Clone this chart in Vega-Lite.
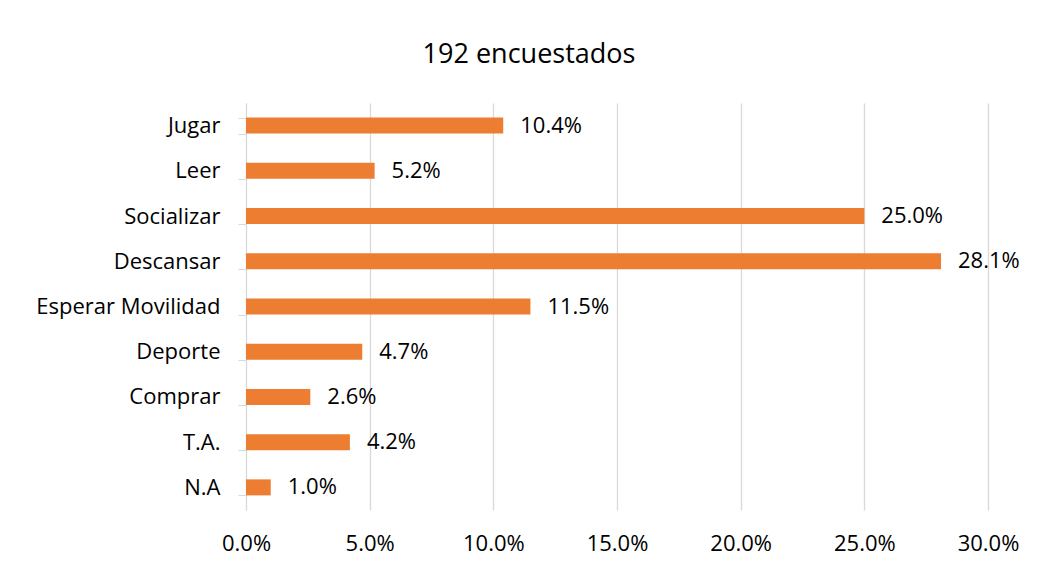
{
  "$schema": "https://vega.github.io/schema/vega-lite/v6.json",
  "autosize": "none",
  "width": 742,
  "height": 407,
  "padding": {"left": 246, "top": 103, "right": 59, "bottom": 59},
  "background": "white",
  "config": {
    "font": "Open Sans",
    "view": {"stroke": null}
  },
  "title": {
    "text": "192 encuestados",
    "font": "Open Sans",
    "fontSize": 27,
    "fontWeight": "normal",
    "color": "#000000",
    "anchor": "middle",
    "baseline": "alphabetic",
    "offset": 2,
    "dx": -88
  },
  "data": {
    "values": [
      {"actividad": "Jugar", "pct": 0.104},
      {"actividad": "Leer", "pct": 0.052},
      {"actividad": "Socializar", "pct": 0.25},
      {"actividad": "Descansar", "pct": 0.281},
      {"actividad": "Esperar Movilidad", "pct": 0.115},
      {"actividad": "Deporte", "pct": 0.047},
      {"actividad": "Comprar", "pct": 0.026},
      {"actividad": "T.A.", "pct": 0.042},
      {"actividad": "N.A", "pct": 0.01}
    ]
  },
  "encoding": {
    "y": {
      "field": "actividad",
      "type": "nominal",
      "sort": null,
      "scale": {"paddingInner": 0.646, "paddingOuter": 0.323},
      "axis": {
        "title": null,
        "domainColor": "#d9d9d9",
        "domainWidth": 1,
        "tickColor": "#d9d9d9",
        "tickSize": 8,
        "tickBand": "extent",
        "labelFont": "Open Sans",
        "labelFontSize": 22,
        "labelColor": "#000000",
        "labelPadding": 18,
        "labelLimit": 400,
        "grid": false
      }
    },
    "x": {
      "field": "pct",
      "type": "quantitative",
      "scale": {"domain": [0, 0.3], "nice": false},
      "axis": {
        "title": null,
        "format": ".1%",
        "values": [0, 0.05, 0.1, 0.15, 0.2, 0.25, 0.3],
        "domain": false,
        "ticks": false,
        "tickSize": 0,
        "grid": true,
        "gridColor": "#d9d9d9",
        "gridWidth": 1.3,
        "labelFlush": false,
        "labelFont": "Open Sans",
        "labelFontSize": 22,
        "labelColor": "#000000",
        "labelPadding": 23
      }
    }
  },
  "layer": [
    {"mark": {"type": "bar", "color": "#ED7D31"}},
    {
      "mark": {"type": "text", "align": "left", "baseline": "middle", "dx": 17, "fontSize": 22, "font": "Open Sans", "color": "#000000"},
      "encoding": {"text": {"field": "pct", "type": "quantitative", "format": ".1%"}}
    }
  ]
}
